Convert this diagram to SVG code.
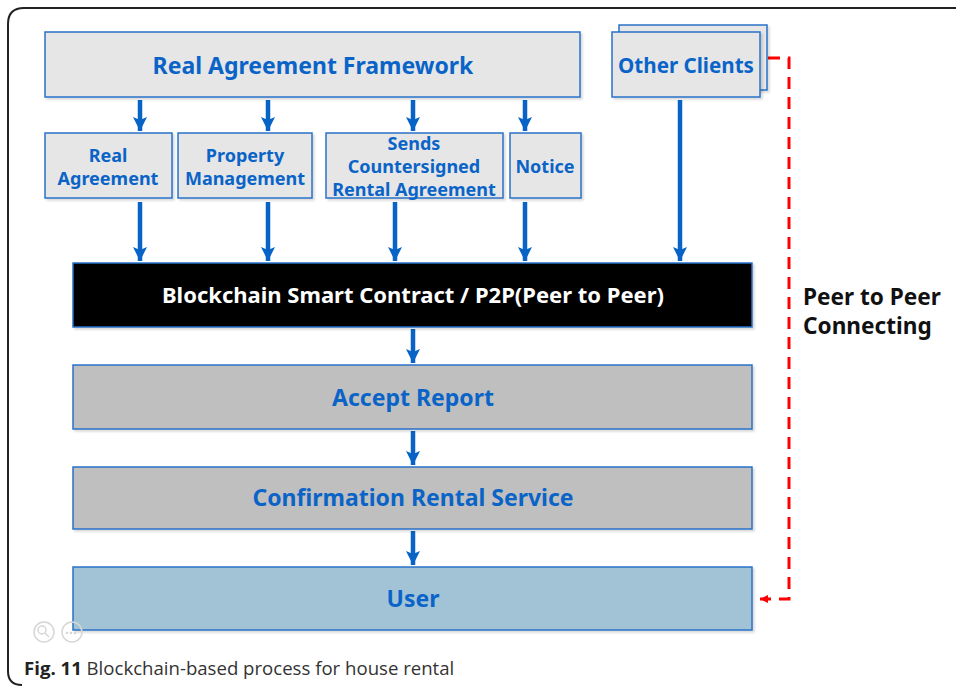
<svg xmlns="http://www.w3.org/2000/svg" width="956" height="687" viewBox="0 0 956 687">
  <defs>
    <marker id="arrowBlue" markerUnits="userSpaceOnUse" markerWidth="16" markerHeight="14" refX="14" refY="7" orient="auto">
      <path d="M0,0 L14,7 L0,14 L3,7 Z" fill="#0863c6"/>
    </marker>
    <marker id="arrowRed" markerUnits="userSpaceOnUse" markerWidth="10" markerHeight="10" refX="8" refY="4" orient="auto">
      <path d="M0,0 L8,4 L0,8 Z" fill="#ff0000"/>
    </marker>
    <filter id="shadow" x="-5%" y="-5%" width="110%" height="120%">
      <feDropShadow dx="2" dy="2" stdDeviation="1" flood-color="#000" flood-opacity="0.15"/>
    </filter>
  </defs>
  <style>
    .box { stroke: #2a72c8; stroke-width: 1.5; filter: url(#shadow); }
    .light { fill: #e6e6e6; }
    .grey { fill: #bfbfbf; }
    .user { fill: #a2c3d6; }
    .dark { fill: #000000; }
    .label { font-family: "Noto Sans", "Open Sans", sans-serif; font-weight: bold; fill: #0a64c8; text-anchor: middle; }
    .flow { stroke: #0863c6; stroke-width: 4.5; fill: none; marker-end: url(#arrowBlue); }
    .p2p { stroke: #ff0000; stroke-width: 3; fill: none; stroke-dasharray: 12 8; }
    .caption { font-family: "Open Sans", "Noto Sans", sans-serif; font-size: 18.6px; fill: #333333; }
  </style>

  <rect width="956" height="687" fill="#ffffff"/>
  <!-- figure frame -->
  <path d="M970,8 L24,8 Q8,8 8,24 L8,671 Q8,685 22,685" fill="none" stroke="#222" stroke-width="2"/>

  <!-- connectors -->
  <g id="connectors">
    <line class="flow" x1="140" y1="100" x2="140" y2="131"/>
    <line class="flow" x1="268" y1="100" x2="268" y2="131"/>
    <line class="flow" x1="413" y1="100" x2="413" y2="131"/>
    <line class="flow" x1="525" y1="100" x2="525" y2="131"/>
    <line class="flow" x1="140" y1="202" x2="140" y2="261"/>
    <line class="flow" x1="268" y1="202" x2="268" y2="261"/>
    <line class="flow" x1="395" y1="202" x2="395" y2="261"/>
    <line class="flow" x1="525" y1="202" x2="525" y2="261"/>
    <line class="flow" x1="680" y1="100" x2="680" y2="261"/>
    <line class="flow" x1="413" y1="329" x2="413" y2="363"/>
    <line class="flow" x1="413" y1="431" x2="413" y2="465"/>
    <line class="flow" x1="413" y1="531" x2="413" y2="565"/>
    <path class="p2p" d="M768,58 L789,58 L789,599 L760,599" marker-end="url(#arrowRed)"/>
  </g>

  <g id="framework">
    <rect class="box light" x="45" y="32" width="535" height="65"/>
    <text class="label" x="313" y="74" font-size="23">Real Agreement Framework</text>
  </g>

  <g id="other-clients">
    <rect class="box light" x="619" y="25" width="148" height="65"/>
    <rect class="box light" x="612" y="32" width="148" height="65"/>
    <text class="label" x="686" y="73" font-size="20.6">Other Clients</text>
  </g>

  <g id="real-agreement">
    <rect class="box light" x="45" y="133" width="127" height="65"/>
    <text class="label" x="108" y="162" font-size="18">Real</text>
    <text class="label" x="108" y="185" font-size="18">Agreement</text>
  </g>

  <g id="property-management">
    <rect class="box light" x="178" y="133" width="134" height="65"/>
    <text class="label" x="245" y="162" font-size="18">Property</text>
    <text class="label" x="245" y="185" font-size="18">Management</text>
  </g>

  <g id="countersigned">
    <rect class="box light" x="326" y="133" width="177" height="65"/>
    <text class="label" x="414" y="150" font-size="18">Sends</text>
    <text class="label" x="414" y="173" font-size="18">Countersigned</text>
    <text class="label" x="414" y="196" font-size="18">Rental Agreement</text>
  </g>

  <g id="notice">
    <rect class="box light" x="510" y="133" width="71" height="65"/>
    <text class="label" x="545" y="173" font-size="18">Notice</text>
  </g>

  <g id="smart-contract">
    <rect class="box dark" x="73" y="263" width="679" height="64"/>
    <text class="label" x="413" y="303" font-size="22" style="fill:#ffffff">Blockchain Smart Contract / P2P(Peer to Peer)</text>
  </g>

  <g id="accept-report">
    <rect class="box grey" x="73" y="365" width="679" height="64"/>
    <text class="label" x="413" y="406" font-size="23">Accept Report</text>
  </g>

  <g id="confirmation">
    <rect class="box grey" x="73" y="467" width="679" height="62"/>
    <text class="label" x="413" y="506" font-size="23">Confirmation Rental Service</text>
  </g>

  <g id="user">
    <rect class="box user" x="73" y="567" width="679" height="63"/>
    <text class="label" x="413" y="607" font-size="23">User</text>
  </g>

  <g id="p2p-label" font-family="Noto Sans, Open Sans, sans-serif" font-weight="bold" font-size="22.6" fill="#111">
    <text x="803" y="305">Peer to Peer</text>
    <text x="803" y="334">Connecting</text>
  </g>

  <!-- viewer controls -->
  <g fill="none" stroke="#d6d6d6" stroke-width="1.5">
    <circle cx="44" cy="632" r="10"/>
    <circle cx="72" cy="632" r="10"/>
    <circle cx="42" cy="630" r="4"/>
    <line x1="45" y1="633" x2="49" y2="637"/>
  </g>
  <g fill="#d6d6d6">
    <circle cx="67" cy="633" r="1.3"/>
    <circle cx="71" cy="633" r="1.3"/>
    <circle cx="75" cy="633" r="1.3"/>
  </g>

  <text class="caption" x="24" y="675"><tspan font-weight="bold" fill="#222">Fig. 11</tspan> Blockchain-based process for house rental</text>
</svg>
